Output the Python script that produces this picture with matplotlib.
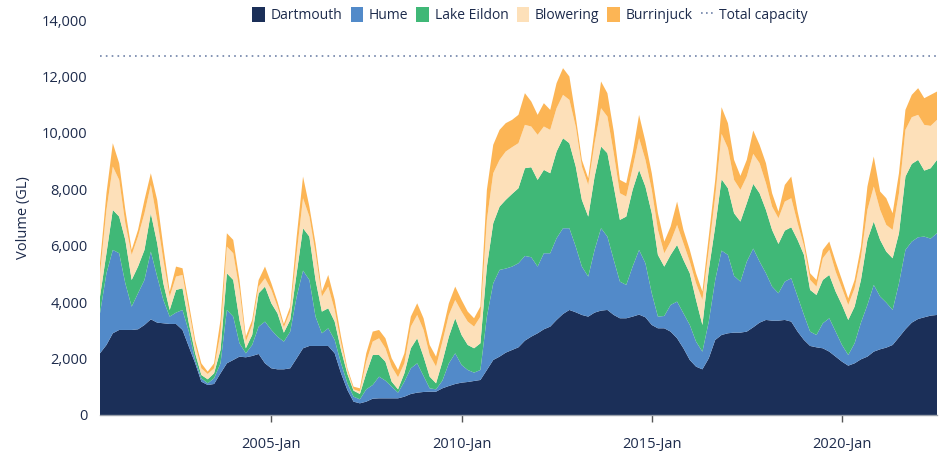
import matplotlib
matplotlib.use("Agg")
import matplotlib.pyplot as plt
from matplotlib.patches import Patch
from matplotlib.lines import Line2D
import pandas as pd

plt.rcParams['font.family'] = ['Open Sans', 'DejaVu Sans']

# bimonthly observations, Jul 2000 .. Jul 2022 (GL)
dates = pd.date_range('2000-07-01', periods=133, freq='2MS')

dartmouth = [2187, 2482, 2896, 3014, 3014, 3014, 3038, 3191, 3392, 3274, 3251, 3227, 3227, 3014, 2423, 1832,
             1182, 1064, 1099, 1478, 1832, 1950, 2069, 2045, 2092, 2163, 1832, 1655, 1619, 1619, 1655, 2009,
             2364, 2447, 2447, 2447, 2447, 2187, 1478, 887, 473, 414, 473, 579, 591, 591, 591, 591,
             650, 745, 792, 816, 827, 827, 946, 1028, 1099, 1147, 1170, 1206, 1241, 1596, 1950, 2069,
             2210, 2305, 2399, 2636, 2778, 2896, 3038, 3132, 3369, 3581, 3723, 3641, 3546, 3487, 3629, 3700,
             3723, 3546, 3428, 3428, 3487, 3558, 3463, 3191, 3073, 3073, 2955, 2719, 2364, 1950, 1714, 1619,
             2009, 2660, 2837, 2896, 2920, 2920, 2955, 3109, 3274, 3369, 3345, 3345, 3369, 3310, 2955, 2660,
             2447, 2399, 2364, 2246, 2069, 1891, 1749, 1832, 1974, 2069, 2246, 2329, 2388, 2482, 2754, 3038,
             3274, 3404, 3463, 3522, 3546]
hume = [1418, 2541, 2955, 2719, 1655, 827, 1277, 1596, 2399, 1631, 827, 260, 402, 709, 532, 118,
        118, 59, 201, 355, 1891, 1537, 473, 142, 390, 969, 1478, 1359, 1158, 981, 1300, 2187,
        2754, 2340, 1040, 449, 626, 473, 355, 236, 177, 142, 437, 485, 768, 626, 414, 201,
        532, 910, 1040, 567, 118, 83, 272, 804, 1087, 626, 426, 296, 355, 1891, 2719, 3073,
        2979, 2955, 2979, 3002, 2813, 2364, 2695, 2600, 2896, 3038, 2896, 2329, 1714, 1418, 2222, 2920,
        2600, 1950, 1300, 1182, 1773, 2293, 1915, 1123, 414, 437, 946, 1300, 1241, 1241, 887, 626,
        1300, 2128, 2990, 2778, 2009, 1808, 2482, 2790, 2163, 1655, 1206, 969, 1359, 1537, 1241, 887,
        508, 437, 887, 1182, 887, 591, 378, 709, 1300, 1832, 2364, 1868, 1596, 1241, 1915, 2813,
        2872, 2896, 2860, 2730, 2896]
eildon = [591, 709, 1418, 1300, 1537, 946, 946, 1064, 1359, 1182, 591, 236, 804, 768, 296, 236,
          118, 142, 177, 473, 1300, 1300, 827, 177, 355, 1182, 1241, 946, 827, 319, 414, 827,
          1501, 1537, 1300, 768, 709, 650, 473, 331, 213, 189, 567, 1064, 768, 674, 177, 118,
          296, 709, 887, 686, 414, 213, 674, 946, 1241, 1064, 887, 863, 946, 1773, 2128, 2246,
          2435, 2577, 2660, 3109, 3191, 3073, 2955, 2837, 3073, 3191, 3014, 2837, 2364, 2128, 2600, 2896,
          2955, 2600, 2187, 2423, 2719, 2837, 2719, 2837, 2187, 1749, 1773, 2009, 1891, 1832, 1478, 946,
          1832, 1891, 2529, 2364, 2222, 2128, 2069, 2293, 2423, 2246, 2009, 1749, 1808, 1808, 2009, 2128,
          1478, 1418, 1537, 1537, 1418, 1418, 1241, 1300, 1513, 2305, 2246, 2009, 1808, 1832, 1773, 2600,
          2754, 2742, 2340, 2494, 2600]
blowering = [827, 1537, 1537, 1300, 591, 887, 1064, 1300, 1005, 827, 827, 473, 473, 473, 473, 296,
             236, 189, 177, 591, 946, 946, 1064, 236, 355, 236, 296, 473, 236, 189, 296, 709,
             1064, 709, 946, 532, 768, 414, 236, 118, 47, 83, 414, 473, 591, 473, 532, 426,
             355, 768, 827, 946, 768, 591, 709, 768, 650, 827, 827, 768, 946, 1655, 1773, 1655,
             1714, 1655, 1596, 1537, 1442, 1596, 1537, 1537, 1537, 1537, 1537, 1418, 1182, 1123, 1182, 1359,
             1300, 1182, 946, 709, 768, 1123, 946, 827, 887, 473, 473, 709, 591, 414, 591, 887,
             709, 1064, 1608, 1418, 1182, 1123, 946, 1064, 1064, 946, 827, 910, 1028, 1028, 591, 319,
             355, 296, 768, 887, 709, 591, 532, 650, 804, 1064, 1241, 1064, 946, 1005, 1418, 1655,
             1655, 1596, 1619, 1501, 1418]
burrinjuck = [355, 591, 827, 591, 473, 177, 236, 473, 414, 709, 473, 177, 355, 236, 236, 177,
              177, 83, 177, 473, 473, 473, 355, 177, 177, 236, 414, 236, 177, 118, 177, 591,
              768, 355, 355, 177, 414, 355, 236, 83, 95, 118, 296, 355, 296, 355, 296, 260,
              355, 355, 414, 414, 355, 355, 355, 414, 473, 414, 355, 296, 355, 1064, 1005, 1064,
              1005, 969, 1005, 1123, 887, 709, 827, 709, 887, 946, 827, 355, 236, 236, 473, 946,
              827, 768, 473, 473, 532, 827, 650, 591, 591, 414, 532, 827, 473, 414, 355, 296,
              473, 591, 946, 887, 709, 496, 591, 827, 650, 709, 473, 236, 591, 768, 414, 213,
              236, 236, 296, 296, 355, 296, 236, 296, 378, 827, 1064, 650, 946, 591, 709, 709,
              792, 946, 946, 1099, 1005]
total_capacity = 12740

series_names = ['Dartmouth', 'Hume', 'Lake Eildon', 'Blowering', 'Burrinjuck']
colors = ['#1b2f58', '#528ac9', '#40b877', '#fde0b9', '#fcb555']
tick_years = [2005, 2010, 2015, 2020]

fig = plt.figure(figsize=(9.4, 4.55), dpi=100)
ax = fig.add_axes([100/940, 40/455, 837/940, 395/455])

ax.stackplot(dates, dartmouth, hume, eildon, blowering, burrinjuck,
             colors=colors, linewidth=0)
ax.axhline(total_capacity, color='#6f82a8', linestyle=(0, (1, 2.5)), linewidth=1.2)

ax.set_xlim(dates[0], dates[-1])
ax.set_ylim(0, 14000)
ax.set_yticks(range(0, 14001, 2000))
ax.yaxis.set_major_formatter(matplotlib.ticker.FuncFormatter(lambda v, p: f'{int(v):,}'))
ax.set_xticks([pd.Timestamp(f'{y}-01-01') for y in tick_years])
ax.set_xticklabels([f'{y}-Jan' for y in tick_years])

txt = '#1d2b4c'
ax.tick_params(axis='y', length=0, labelsize=10.5, labelcolor=txt, pad=9)
ax.tick_params(axis='x', length=5, width=1, color='#555555', labelsize=10.5,
               labelcolor=txt, pad=11, direction='out')
for s in ['top', 'right', 'left']:
    ax.spines[s].set_visible(False)
ax.spines['bottom'].set_color('#9aa0aa')
ax.spines['bottom'].set_linewidth(1)
ax.set_ylabel('Volume (GL)', fontsize=10.5, color=txt, labelpad=8)

handles = [Patch(facecolor=c, edgecolor='none') for c in colors]
handles.append(Line2D([0], [0], color='#6f82a8', linestyle=(0, (1, 2)), linewidth=1.2))
labels = series_names + ['Total capacity']
fig.legend(handles, labels, loc='center', bbox_to_anchor=(530/940, 1 - 15/455), ncol=6,
           frameon=False, fontsize=10, labelcolor=txt, handlelength=0.9, handleheight=1.3,
           handletextpad=0.4, columnspacing=0.6)

fig.savefig('out.png', dpi=100)
